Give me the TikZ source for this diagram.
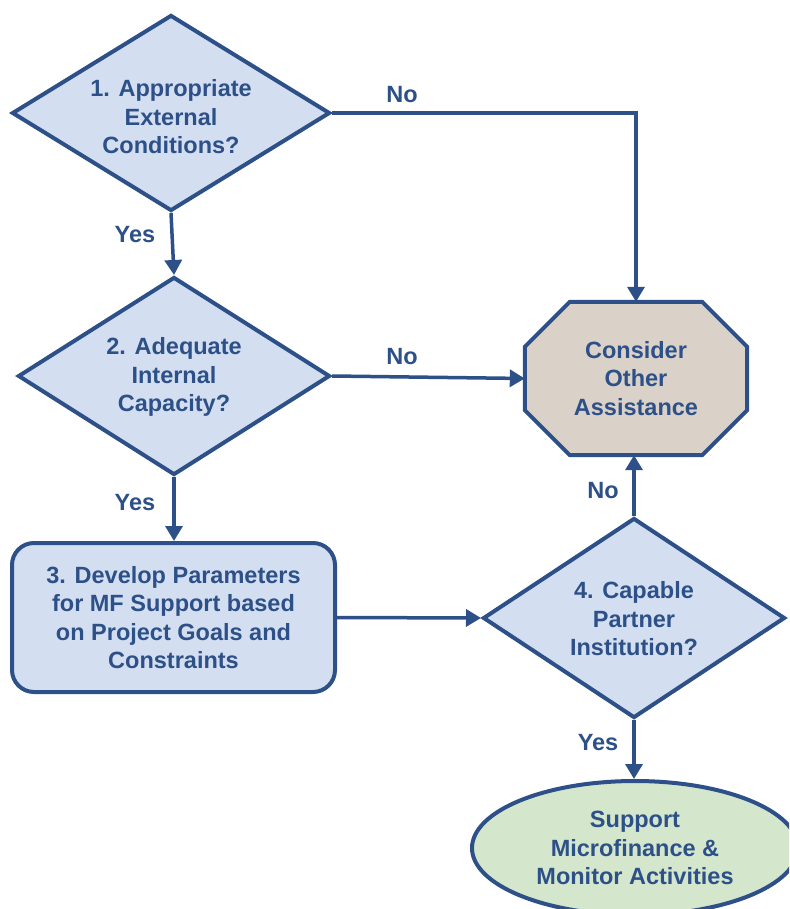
\documentclass[tikz,border=0pt]{standalone}
\usepackage{fontspec}
\setmainfont{Liberation Sans}
\usetikzlibrary{shapes.geometric,arrows.meta,backgrounds,calc}
\definecolor{navy}{HTML}{2C5087}
\definecolor{bluefill}{HTML}{D3DFF1}
\definecolor{tanfill}{HTML}{DAD2C9}
\definecolor{greenfill}{HTML}{D4E6CC}
\begin{document}
\begin{tikzpicture}[x=1pt,y=-1pt,
  every node/.style={font=\fontsize{23.5}{28.5}\selectfont\bfseries, text=navy, align=center},
  shapebox/.style={draw=navy, line width=4pt, inner sep=0pt},
  dia/.style={shapebox, diamond, fill=bluefill},
  conn/.style={draw=navy, line width=3.5pt, -{Triangle[length=15pt,width=17pt]}},
  lbl/.style={inner sep=0pt}]
\clip (0,0) rectangle (789,909);
\useasboundingbox (0,0) rectangle (789,909);
% decision 1
\node[dia, minimum width=318pt, minimum height=196pt] (d1) at (171,113) {};
\node (d1t) at (171,117) {1. Appropriate\\External\\Conditions?};
% decision 2
\node[dia, minimum width=312pt, minimum height=198pt] (d2) at (174,376) {};
\node (d2t) at (174,377) {2. Adequate\\Internal\\Capacity?};
% step 3
\node[shapebox, fill=bluefill, rounded corners=22pt, minimum width=323pt, minimum height=149pt] (s3) at (173.5,617.5) {3. Develop Parameters\\for MF Support based\\on Project Goals and\\Constraints};
% decision 4
\node[dia, minimum width=302pt, minimum height=200pt] (d4) at (634,618) {};
\node (d4t) at (634,619) {4. Capable\\Partner\\Institution?};
% consider other assistance (octagon)
\node[minimum width=222pt, minimum height=153pt, inner sep=0pt] (oth) at (636,378.5) {Consider\\Other\\Assistance};
\begin{scope}[on background layer]
\filldraw[draw=navy, fill=tanfill, line width=4pt, line join=miter]
  ($(oth.north west)+(45,0)$) -- ($(oth.north east)+(-45,0)$) -- ($(oth.north east)+(0,45)$)
  -- ($(oth.south east)+(0,-45)$) -- ($(oth.south east)+(-45,0)$) -- ($(oth.south west)+(45,0)$)
  -- ($(oth.south west)+(0,-45)$) -- ($(oth.north west)+(0,45)$) -- cycle;
\end{scope}
% support microfinance (ellipse)
\node[shapebox, ellipse, fill=greenfill, minimum width=326pt, minimum height=134pt] (sup) at (635,848) {Support\\Microfinance \&\\Monitor Activities};
% connectors
\draw[conn] (d1.south) -- (d2.north);
\draw[conn] (d1.east) -- (d1.east -| oth.north) -- (oth.north);
\draw[conn] (d2.east) -- (oth.west);
\draw[conn] (d2.south) -- (s3.north -| d2.south);
\draw[conn] (s3.east) -- (d4.west);
\draw[conn] (d4.north) -- (d4.north |- oth.south);
\draw[conn] (d4.south) -- (sup.north -| d4.south);
% labels
\node[lbl] (n1) at (402,95) {No};
\node[lbl] (y1) at (135,235) {Yes};
\node[lbl] (n2) at (402,357) {No};
\node[lbl] (y2) at (135,503) {Yes};
\node[lbl] (n3) at (603,491) {No};
\node[lbl] (y3) at (598,743) {Yes};
\end{tikzpicture}
\end{document}
